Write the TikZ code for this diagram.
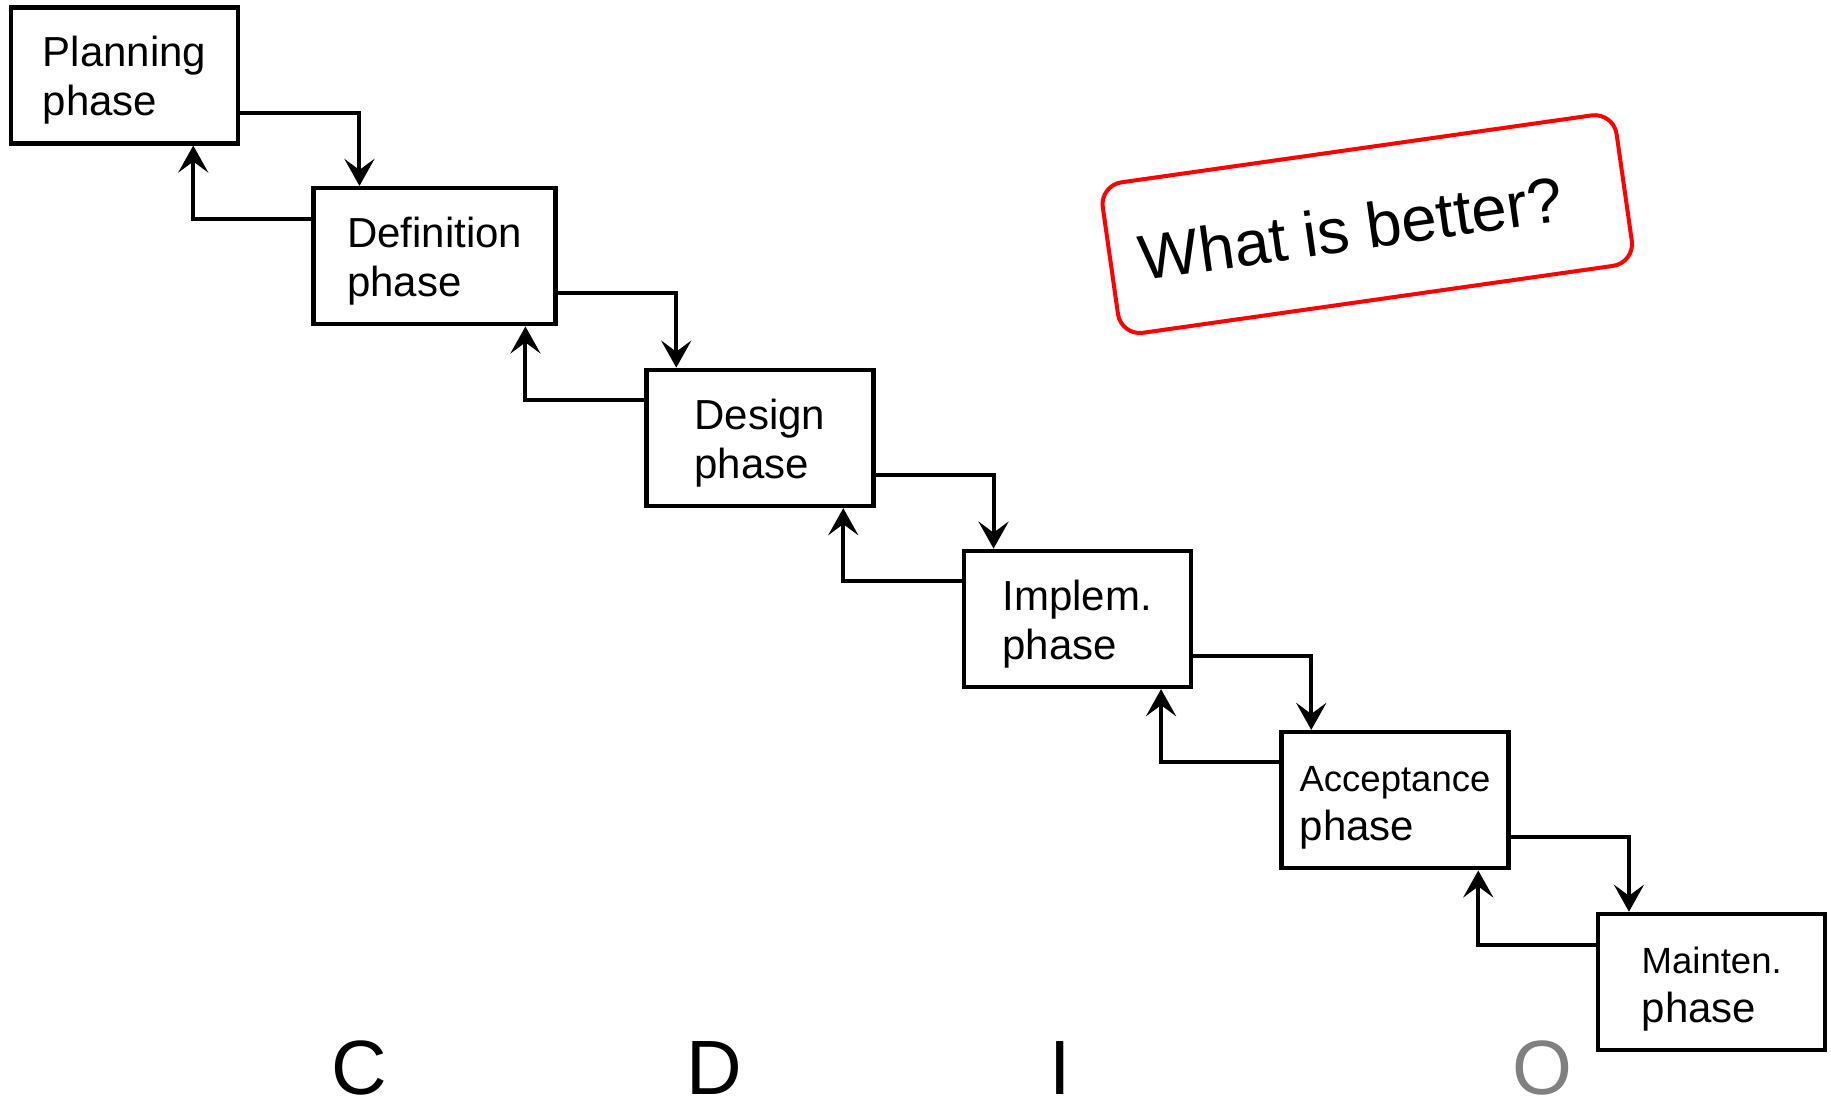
\documentclass[tikz,border=0pt]{standalone}
\usepackage{fontspec}
\setmainfont{Liberation Sans}
\usetikzlibrary{arrows.meta,calc}
\definecolor{ogray}{RGB}{128,128,128}
\definecolor{qred}{RGB}{255,0,0}
\begin{document}
\begin{tikzpicture}[x=1pt,y=-1pt,
  phasebox/.style={draw, line width=4.5pt, minimum width=227pt, minimum height=136pt,
    align=left, inner sep=0pt, font=\fontsize{42}{49}\selectfont},
  conn/.style={line width=4pt, -{Stealth[length=27pt,width=30pt,inset=11pt]}},
  bigletter/.style={anchor=base, inner sep=0pt, font=\fontsize{77}{80}\selectfont}]
\useasboundingbox (0,0) rectangle (1831,1099);

% phase boxes
\node[phasebox] (plan) at (124.5,75.3) {\rule{0pt}{40pt}Planning\\phase};
\node[phasebox, minimum width=242pt] (def) at (434.7,256.2) {\rule{0pt}{40pt}Definition\\phase};
\node[phasebox] (des) at (760,437.9) {\rule{0pt}{40pt}Design\\phase};
\node[phasebox] (imp) at (1077.3,618.9) {\rule{0pt}{40pt}Implem.\\phase};
\node[phasebox] (acc) at (1395,800.2) {\rule{0pt}{40pt}{\fontsize{36.5}{49}\selectfont Acceptance}\\phase};
\node[phasebox] (mnt) at (1711.7,982) {\rule{0pt}{40pt}{\fontsize{36.5}{49}\selectfont Mainten.}\\phase};

% forward connectors
\draw[conn] ($(plan.north east)+(0,107.5)$) -| ($(def.north west)+(48,0)$);
\draw[conn] ($(def.north east)+(0,107.5)$) -| ($(des.north west)+(32,0)$);
\draw[conn] ($(des.north east)+(0,107.5)$) -| ($(imp.north west)+(32,0)$);
\draw[conn] ($(imp.north east)+(0,107.5)$) -| ($(acc.north west)+(32,0)$);
\draw[conn] ($(acc.north east)+(0,107.5)$) -| ($(mnt.north west)+(33,0)$);

% backward connectors
\draw[conn] ($(def.north west)+(0,33)$) -| ($(plan.south east)+(-47,0)$);
\draw[conn] ($(des.north west)+(0,32)$) -| ($(def.south east)+(-32.5,0)$);
\draw[conn] ($(imp.north west)+(0,32)$) -| ($(des.south east)+(-32.5,0)$);
\draw[conn] ($(acc.north west)+(0,32)$) -| ($(imp.south east)+(-32,0)$);
\draw[conn] ($(mnt.north west)+(0,33)$) -| ($(acc.south east)+(-32.5,0)$);

% question box
\node[draw=qred, line width=4pt, rounded corners=22pt, minimum width=519pt,
  minimum height=152pt, rotate=8.1, inner sep=0pt] (qbox) at (1367.3,224.1) {};
\node[rotate=8.1, inner sep=0pt, font=\fontsize{63.5}{70}\selectfont] (qtext) at (1351,228) {What is better?};

% bottom letters
\node[bigletter] (lc) at (359,1094) {C};
\node[bigletter] (ld) at (714,1094) {D};
\node[bigletter] (li) at (1060.5,1094) {I};
\node[bigletter, text=ogray] (lo) at (1542,1094) {O};
\end{tikzpicture}
\end{document}
